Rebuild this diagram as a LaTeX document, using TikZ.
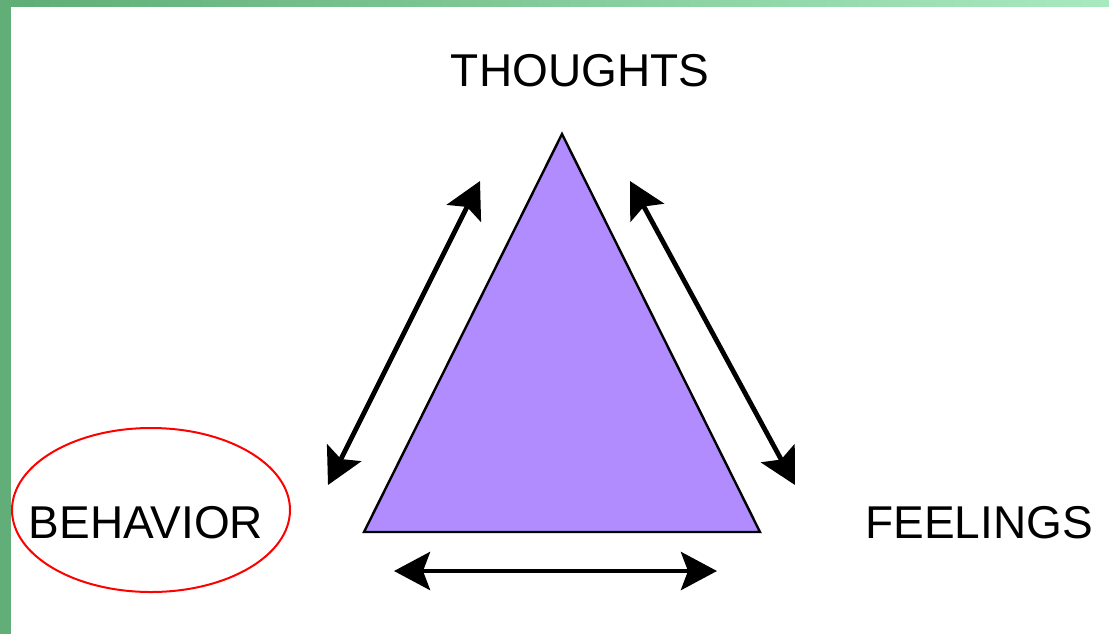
\documentclass[tikz,border=0pt]{standalone}
\usepackage{fontspec}
\setmainfont{Liberation Sans}
\usetikzlibrary{arrows.meta, positioning, calc}

\begin{document}
\begin{tikzpicture}[
    x=0.5pt, y=-0.5pt,
    label/.style={inner sep=0pt, font=\fontsize{23}{28}\selectfont},
    tri/.style={draw=black, fill={rgb,255:red,176;green,140;blue,255}, line width=1.2pt, line join=miter},
    arr/.style={{Stealth[length=18pt, width=19pt, inset=3.5pt]}-{Stealth[length=18pt, width=19pt, inset=3.5pt]}, line width=2.4pt}
]
\useasboundingbox (0,0) rectangle (1109,634);
% frame
\fill[fill={rgb,255:red,98;green,174;blue,120}] (0,0) rectangle (11,634);
\shade[left color={rgb,255:red,96;green,174;blue,118}, right color={rgb,255:red,168;green,234;blue,192}] (11,0) rectangle (1109,6);

% corners of the triangle
\coordinate (top) at (562,134);
\coordinate (bl) at (364,532);
\coordinate (br) at (760,532);
\draw[tri] (top) -- (bl) -- (br) -- cycle;

\node[label] (thoughts) at (580,71) {THOUGHTS};
\node[label] (behavior) at (146,523) {BEHAVIOR};
\node[label] (feelings) at (979,523) {FEELINGS};
\draw[red, line width=1pt] (151,510) ellipse [x radius=139, y radius=82];

% arrow ends
\coordinate (la) at (328,485);
\coordinate (lb) at (480,181);
\coordinate (ra) at (630,181);
\coordinate (rb) at (795,485);
\coordinate (ba) at (394,571);
\coordinate (bb) at (717,571);
\draw[arr] (la) -- (lb);
\draw[arr] (ra) -- (rb);
\draw[arr] (ba) -- (bb);
\end{tikzpicture}
\end{document}
